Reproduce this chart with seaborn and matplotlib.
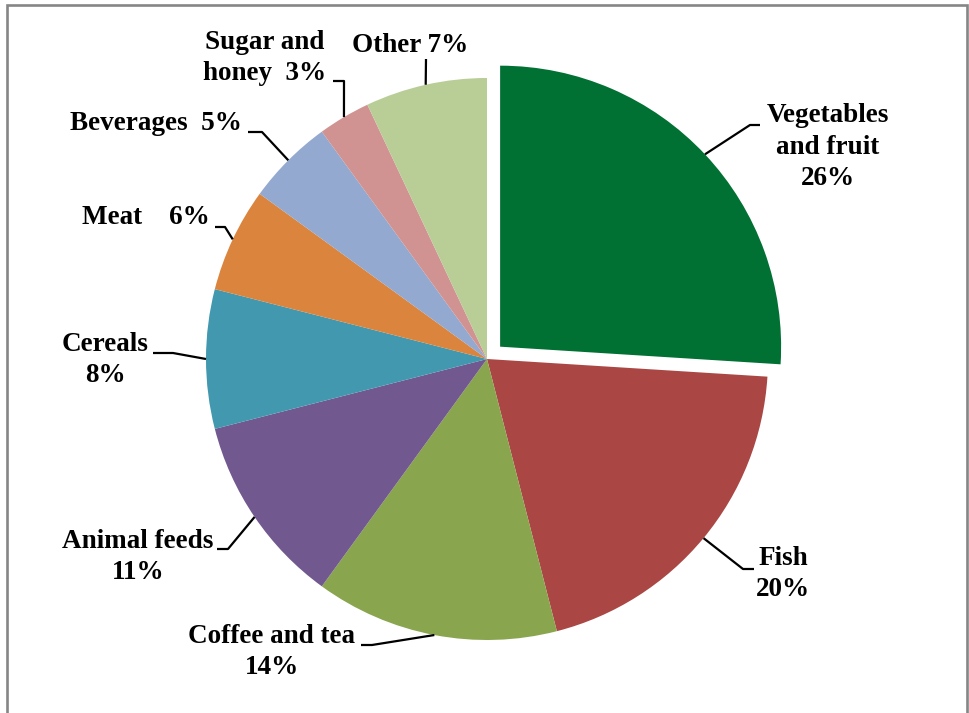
import numpy as np
import matplotlib

matplotlib.use("Agg")
import matplotlib.pyplot as plt
import seaborn as sns

# Share of imports by product group (%)
names = ["Vegetables\nand fruit", "Fish", "Coffee and tea", "Animal feeds",
         "Cereals", "Meat", "Beverages", "Sugar and\nhoney", "Other"]
shares = [26, 20, 14, 11, 8, 6, 5, 3, 7]
separators = ["\n", "\n", "\n", "\n", "\n", "    ", "  ", "  ", " "]
colors = ["#007033", "#AA4643", "#89A54E", "#71588F", "#4198AF",
          "#DB843D", "#93A9CF", "#D19392", "#B9CD96"]

W, H = 970, 713
CENTER = (487, H - 359)
RADIUS = 281
explode = [18, 0, 0, 0, 0, 0, 0, 0, 0]

# label centre and leader line (elbow, end) in image pixels, y from top
label_pos = [(828, 147), (783, 574), (272, 652), (138, 557), (105, 360),
             (146, 218), (156, 123), (265, 58), (410, 45)]
elbows = [(750, 125), (743, 569), (372, 645), (228, 549), (173, 353),
          (225, 227), (262, 132), (344, 81), (426, 59)]
ends = [(760, 125), (754, 569), (361, 645), (217, 549), (153, 353),
        (215, 227), (248, 132), (333, 81), (426, 59)]

sns.set_theme(style="white")
plt.rcParams["font.family"] = ["Liberation Serif", "DejaVu Serif"]

fig = plt.figure(figsize=(W / 100, H / 100), dpi=100)
ax = fig.add_axes([0, 0, 1, 1])

wedges, _ = ax.pie(shares, colors=colors, startangle=90, counterclock=False,
                   explode=explode, center=CENTER, radius=RADIUS,
                   wedgeprops=dict(linewidth=0, antialiased=True))

for w, name, sep, val, pos, elb, end in zip(wedges, names, separators, shares,
                                            label_pos, elbows, ends):
    mid = np.deg2rad((w.theta1 + w.theta2) / 2)
    sx = w.center[0] + w.r * np.cos(mid)
    sy = w.center[1] + w.r * np.sin(mid)
    ax.plot([sx, elb[0], end[0]], [sy, H - elb[1], H - end[1]],
            color="black", lw=1.6, solid_capstyle="butt", zorder=3)
    ax.text(pos[0], H - pos[1], f"{name}{sep}{val}%", ha="center", va="center",
            fontsize=19.5, fontweight="bold", color="black", linespacing=1.36)

# grey frame round the chart area
ax.plot([7, 7, 967, 967], [0, H - 5, H - 5, 0], color="#868686", lw=1.9,
        solid_joinstyle="miter")

ax.set_xlim(0, W)
ax.set_ylim(0, H)
ax.set_aspect("equal")
ax.axis("off")

fig.savefig("out.png", dpi=100, facecolor="white")
plt.close(fig)
